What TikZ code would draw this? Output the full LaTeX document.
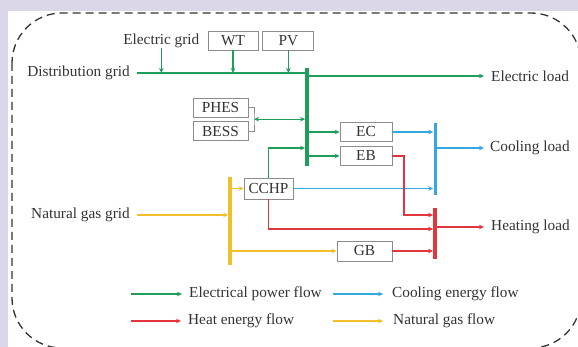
\documentclass[tikz,border=0pt]{standalone}
\usepackage{fontspec}
\setmainfont{Liberation Serif}
\usetikzlibrary{arrows.meta,positioning}
\definecolor{FlowGreen}{HTML}{1E9E5A}
\definecolor{FlowBlue}{HTML}{34A8E0}
\definecolor{FlowRed}{HTML}{E2363E}
\definecolor{FlowGold}{HTML}{F2BE2A}
\definecolor{BoxGray}{HTML}{8C8C8C}
\definecolor{TextGray}{HTML}{333333}
\definecolor{PageLilac}{HTML}{DCD7E8}

\begin{document}
\begin{tikzpicture}[x=1pt,y=-1pt,
    every node/.style={font=\fontsize{15.3}{17}\selectfont, text=TextGray},
    unit/.style={draw=BoxGray, line width=0.9pt, fill=white, minimum height=19pt, inner sep=0pt},
    lbl/.style={inner sep=0pt},
    bus/.style={minimum width=3.4pt, inner sep=0pt},
    flow/.style={-{Stealth[length=5pt,width=4.5pt]}, line width=1.3pt},
    flowboth/.style={{Stealth[length=5pt,width=4.5pt]}-{Stealth[length=5pt,width=4.5pt]}, line width=1.3pt}]
    \useasboundingbox (0,0) rectangle (578,347);
    \clip (0,0) rectangle (578,347);
    \fill[PageLilac] (0,0) rectangle (578,347);
    \fill[white] (8,11) rectangle (578,347);
    \draw[TextGray, line width=1.3pt, dash pattern=on 8pt off 5pt, rounded corners=50pt]
      (12,13) rectangle (581,348);

    % sources
    \node[unit, minimum width=50pt] (wt) at (233,40.5) {WT};
    \node[unit, minimum width=51pt, right=4pt of wt] (pv) {PV};
    \node[lbl, left=8pt of wt] (egrid) {Electric grid};
    \node[lbl, anchor=east] (dist) at (130,73) {Distribution grid};
    \node[lbl, anchor=east] (ngas) at (130,215) {Natural gas grid};

    % units
    \node[unit, minimum width=55pt] (phes) at (220.5,107.5) {PHES};
    \node[unit, minimum width=55pt, below=4pt of phes] (bess) {BESS};
    \node[unit, minimum width=52pt] (ec) at (366,132) {EC};
    \node[unit, minimum width=52pt, below=4pt of ec] (eb) {EB};
    \node[unit, minimum width=49pt, minimum height=21pt] (cchp) at (268.5,188.5) {CCHP};
    \node[unit, minimum width=55pt, minimum height=20pt] (gb) at (364.5,251) {GB};

    % buses
    \node[bus, fill=FlowGreen, minimum height=98pt] (ebus) at (307,117) {};
    \node[bus, fill=FlowGold, minimum height=88pt] (gbus) at (230,221) {};
    \node[bus, fill=FlowBlue, minimum width=3pt, minimum height=72pt] (cbus) at (435,159) {};
    \node[bus, fill=FlowRed, minimum height=51pt] (hbus) at (435,233.5) {};

    % loads
    \node[lbl, anchor=west] (eload) at (491,76) {Electric load};
    \node[lbl, anchor=west] (cload) at (490,148) {Cooling load};
    \node[lbl, anchor=west] (hload) at (491,227) {Heating load};

    % electrical power
    \draw[FlowGreen, line width=1.3pt, shorten <=7pt] (dist.east) -- (dist.east -| ebus.center);
    \draw[flow, FlowGreen] (egrid.south) -- (egrid.south |- dist.east);
    \draw[flow, FlowGreen] (wt.south) -- (wt.south |- dist.east);
    \draw[flow, FlowGreen] (pv.south) -- (pv.south |- dist.east);
    \draw[flow, FlowGreen, shorten >=7pt] (eload.west -| ebus.center) -- (eload.west);
    \coordinate (brk) at (254,119.2);
    \draw[BoxGray, line width=0.7pt] (phes.east) -| (brk) |- (bess.east);
    \draw[flowboth, FlowGreen] (brk) -- (brk -| ebus.west);
    \draw[flow, FlowGreen] (ec.west -| ebus.center) -- (ec.west);
    \draw[flow, FlowGreen] (eb.west -| ebus.center) -- (eb.west);
    \coordinate (chpe) at (268.5,148);
    \draw[flow, FlowGreen] (cchp.north) -- (chpe) -- (chpe -| ebus.west);

    % natural gas
    \draw[flow, FlowGold, shorten <=7pt] (ngas.east) -- (ngas.east -| gbus.west);
    \draw[flow, FlowGold] (cchp.west -| gbus.center) -- (cchp.west);
    \draw[flow, FlowGold] (gb.west -| gbus.center) -- (gb.west);

    % cooling
    \draw[flow, FlowBlue] (ec.east) -- (ec.east -| cbus.west);
    \draw[flow, FlowBlue] (cchp.east) -- (cchp.east -| cbus.west);
    \draw[flow, FlowBlue, shorten >=6pt] (cload.west -| cbus.center) -- (cload.west);

    % heat
    \coordinate (ebh) at (404,215);
    \draw[flow, FlowRed] (eb.east) -| (ebh) -- (ebh -| hbus.west);
    \coordinate (chph) at (268.5,229);
    \draw[flow, FlowRed] (cchp.south) -- (chph) -- (chph -| hbus.west);
    \draw[flow, FlowRed] (gb.east) -- (gb.east -| hbus.west);
    \draw[flow, FlowRed, shorten >=7pt] (hload.west -| hbus.center) -- (hload.west);

    % legend
    \coordinate (kel) at (131,294);
    \coordinate (kht) at (131,321);
    \coordinate (kcl) at (333,294);
    \coordinate (kng) at (333,321);
    \node[lbl, right=58pt of kel] (tel) {Electrical power flow};
    \node[lbl, right=57pt of kht] (tht) {Heat energy flow};
    \node[lbl, right=59pt of kcl] (tcl) {Cooling energy flow};
    \node[lbl, right=60pt of kng] (tng) {Natural gas flow};
    \draw[flow, FlowGreen, shorten >=7pt] (kel) -- (tel.west);
    \draw[flow, FlowRed, shorten >=7pt] (kht) -- (tht.west);
    \draw[flow, FlowBlue, shorten >=9pt] (kcl) -- (tcl.west);
    \draw[flow, FlowGold, shorten >=10pt] (kng) -- (tng.west);
\end{tikzpicture}
\end{document}
